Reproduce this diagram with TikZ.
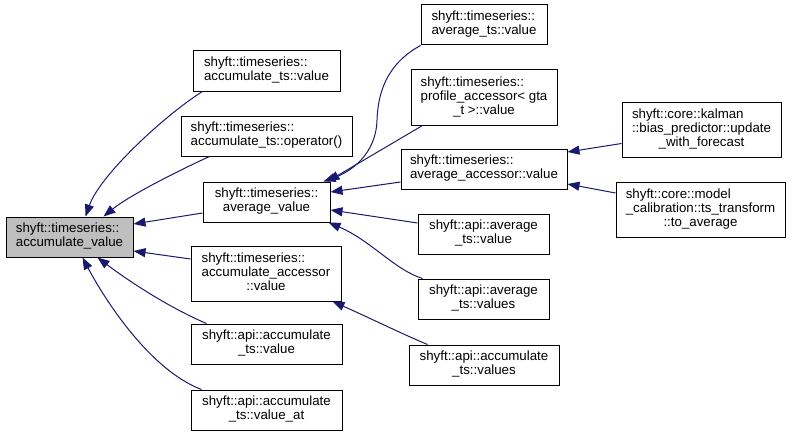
\documentclass[tikz,border=0pt]{standalone}
\usepackage{fontspec}
\setmainfont{Liberation Sans}
\usetikzlibrary{arrows.meta,calc}
\definecolor{edgeblue}{HTML}{191970}
\definecolor{boxgray}{HTML}{BFBFBF}
\newcommand\lb[2]{\begin{tabular}{@{}l@{}}#1\\\multicolumn{1}{@{}c@{}}{#2}\end{tabular}}
\begin{document}
\begin{tikzpicture}[x=1pt,y=-1pt,
  fn/.style={draw=black,line width=1pt,fill=white,inner sep=0pt,minimum height=40pt,
    font=\fontsize{13.3}{14}\selectfont},
  cur/.style={fn,fill=boxgray},
  tall/.style={minimum height=55pt},
  call/.style={draw=edgeblue,line width=1pt,-{Triangle[length=12pt,width=9pt,fill=edgeblue]}}]
\useasboundingbox (0,0) rectangle (792,436);
\node[cur, minimum width=127pt] (av) at (69.5,237) {\lb{shyft::timeseries::}{accumulate\_value}};
\node[fn, minimum width=147pt] (ats) at (266.5,71) {\lb{shyft::timeseries::}{accumulate\_ts::value}};
\node[fn, minimum width=171pt] (aop) at (266.5,136) {\lb{shyft::timeseries::}{accumulate\_ts::operator()}};
\node[fn, minimum width=127pt] (avv) at (266.5,202) {\lb{shyft::timeseries::}{average\_value}};
\node[fn, tall, minimum width=150pt] (aacc) at (266,273.5) {\lb{shyft::timeseries::\\accumulate\_accessor}{::value}};
\node[fn, minimum width=151pt] (apiacc) at (266.5,344) {\lb{shyft::api::accumulate}{\_ts::value}};
\node[fn, minimum width=151pt] (apiaccat) at (266.5,410) {\lb{shyft::api::accumulate}{\_ts::value\_at}};
\node[fn, minimum width=126pt] (avts) at (484,25) {\lb{shyft::timeseries::}{average\_ts::value}};
\node[fn, tall, minimum width=146pt] (prof) at (484,97.5) {\lb{shyft::timeseries::\\profile\_accessor< gta}{\_t >::value}};
\node[fn, minimum width=166pt] (avacc) at (484,169) {\lb{shyft::timeseries::}{average\_accessor::value}};
\node[fn, minimum width=131pt] (apiavv) at (483.5,234) {\lb{shyft::api::average}{\_ts::value}};
\node[fn, minimum width=131pt] (apiavvs) at (483.5,299) {\lb{shyft::api::average}{\_ts::values}};
\node[fn, minimum width=150pt] (apiaccs) at (484,365) {\lb{shyft::api::accumulate}{\_ts::values}};
\node[fn, tall, minimum width=159pt] (kal) at (701.5,129.5) {\lb{shyft::core::kalman\\::bias\_predictor::update}{\_with\_forecast}};
\node[fn, tall, minimum width=169pt] (mod) at (700.5,209.5) {\lb{shyft::core::model\\\_calibration::ts\_transform}{::to\_average}};
% edges into accumulate_value
\draw[call] ($(ats.south west)+(10,0)$) .. controls (165,115) and (100,175) .. ($(av.north)+(16,0)$);
\draw[call] ($(aop.south west)+(29,0)$) .. controls (180,170) and (130,195) .. ($(av.north)+(34,0)$);
\draw[call] ($(avv.west)+(0,11)$) -- ($(av.east)+(0,-13)$);
\draw[call] ($(aacc.west)+(0,-14.5)$) -- ($(av.east)+(0,14)$);
\draw[call] ($(apiacc.north west)+(16,0)$) .. controls (170,308) and (130,282) .. ($(av.south)+(28,0)$);
\draw[call] ($(apiaccat.north west)+(11,0)$) .. controls (150,370) and (105,300) .. ($(av.south)+(13,0)$);
% edges into average_value
\draw[call] (avts.south west) .. controls (385,65) and (378,95) .. (377,120) .. controls (376,155) and (350,172) .. ($(avv.north east)+(-7,0)$);
\draw[call] ($(prof.south west)+(12,0)$) -- ($(avv.north east)+(-3,0)$);
\draw[call] ($(avacc.west)+(0,13)$) -- ($(avv.east)+(0,-10)$);
\draw[call] ($(apiavv.west)+(0,-11)$) -- ($(avv.east)+(0,8)$);
\draw[call] ($(apiavvs.north west)+(5,0)$) .. controls (395,270) and (370,240) .. ($(avv.south east)+(-2,0)$);
% edge into accumulate_accessor
\draw[call] ($(apiaccs.north west)+(19,0)$) .. controls (400,333) and (370,318) .. ($(aacc.south east)+(-9,0)$);
% edges into average_accessor
\draw[call] ($(kal.west)+(0,14)$) -- ($(avacc.east)+(0,-17)$);
\draw[call] ($(mod.west)+(0,-16.5)$) -- ($(avacc.east)+(0,15)$);
\end{tikzpicture}
\end{document}
